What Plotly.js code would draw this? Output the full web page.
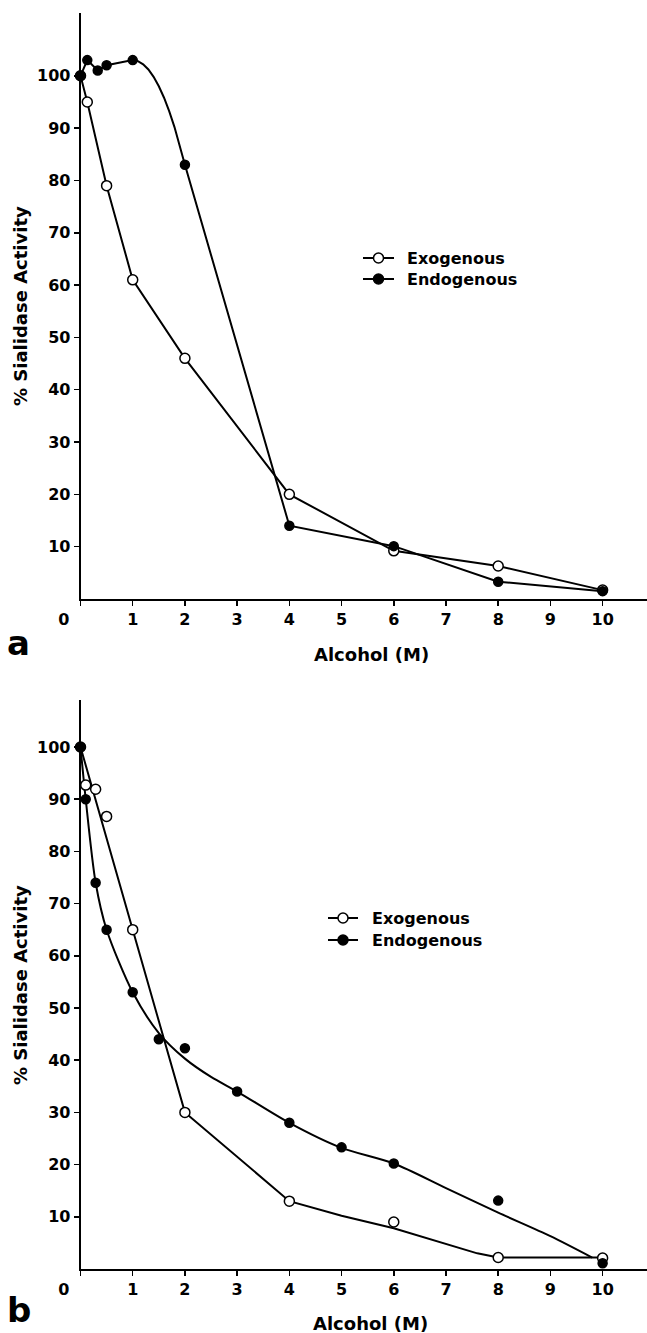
<!DOCTYPE html>
<html>
<head>
<meta charset="utf-8">
<script src="https://cdn.plot.ly/plotly-3.0.1.min.js"></script>
<style>
  html, body { margin: 0; padding: 0; background: #fff; }
  #chart { width: 647px; height: 1333px; }
</style>
</head>
<body>
<div id="chart"></div>
<script>
// ---------- DATA ----------
// Panel a – measured points
const aExoX   = [0, 0.13, 0.5, 1, 2, 4, 6, 8, 10];
const aExoY   = [100, 95, 79, 61, 46, 20, 9.2, 6.3, 1.7];
const aEndoX  = [0, 0.13, 0.33, 0.5, 1, 2, 4, 6, 8, 10];
const aEndoY  = [100, 103, 101, 102, 103, 83, 14, 10.1, 3.3, 1.5];
// Panel a – drawn curve for endogenous (arc between 1 and 2 M)
const aEndoCurveX = [0, 0.13, 0.33, 0.5, 1, 1.1, 1.2, 1.3, 1.4, 1.5, 1.6, 1.7, 1.8, 1.9, 2, 4, 6, 8, 10];
const aEndoCurveY = [100, 103, 101, 102, 103, 102.8, 102.2, 101.2, 99.8, 98, 95.8, 93.2, 90.2, 86.8, 83, 14, 10.1, 3.3, 1.5];

// Panel b – measured points
const bExoX   = [0, 0.1, 0.29, 0.5, 1, 2, 4, 6, 8, 10];
const bExoY   = [100, 92.7, 91.9, 86.7, 65, 30, 13, 9, 2.2, 2.1];
const bEndoX  = [0, 0.1, 0.29, 0.5, 1, 1.5, 2, 3, 4, 5, 6, 8, 10];
const bEndoY  = [100, 90, 74, 65, 53, 44, 42.3, 34, 28, 23.3, 20.2, 13.1, 1.1];
// Panel b – hand-drawn fitted curves
const bExoCurveX  = [0, 1, 2, 4, 5, 6, 7, 7.6, 8, 10];
const bExoCurveY  = [100, 65, 30, 13, 10.2, 7.8, 4.8, 3.0, 2.2, 2.2];
const bEndoCurveX = [0, 0.1, 0.29, 0.5, 1, 1.5, 2, 2.5, 3, 4, 5, 6, 7, 8, 9, 9.8];
const bEndoCurveY = [100, 90, 74, 65, 53, 45.2, 40.3, 36.8, 34, 28, 23.2, 20.2, 15.5, 10.8, 6.3, 2.2];

// Ticks and labels
const xTickVals  = [0, 1, 2, 3, 4, 5, 6, 7, 8, 9, 10];
const xTickText  = ['0', '1', '2', '3', '4', '5', '6', '7', '8', '9', '10'];
const yTickVals  = [10, 20, 30, 40, 50, 60, 70, 80, 90, 100];
const yTickText  = ['10', '20', '30', '40', '50', '60', '70', '80', '90', '100'];
const seriesNames = ['Exogenous', 'Endogenous'];
const xTitle = 'Alcohol (M)';
const yTitle = '% Sialidase Activity';
const panelLabels = ['a', 'b'];

// ---------- STYLE ----------
const W = 647, H = 1333;
const FONT = 'DejaVu Sans';
const px = v => v / W;
const py = v => 1 - v / H;
const LW = 2;
const MS = 10;

// "0" label sits left of the axis corner in the original
const xTickTextShown = xTickText.map((t, i) => i === 0 ? t + '\u00a0\u00a0\u00a0\u00a0\u00a0\u00a0' : t);

function lineTrace(x, y, xa, ya, shape) {
  return { x, y, xaxis: xa, yaxis: ya, type: 'scatter', mode: 'lines',
           line: { color: '#000', width: LW, shape: shape || 'linear', smoothing: 0.8 },
           showlegend: false, hoverinfo: 'skip' };
}
function markerTrace(x, y, xa, ya, filled, name) {
  return { x, y, xaxis: xa, yaxis: ya, type: 'scatter', mode: 'markers', name,
           cliponaxis: false, showlegend: false,
           marker: { symbol: 'circle', size: filled ? MS - 1 : MS,
                     color: filled ? '#000' : '#fff',
                     line: { color: '#000', width: 1.5 } } };
}

const traces = [
  lineTrace(aExoX, aExoY, 'x', 'y'),
  lineTrace(aEndoCurveX, aEndoCurveY, 'x', 'y'),
  markerTrace(aExoX, aExoY, 'x', 'y', false, seriesNames[0]),
  markerTrace(aEndoX, aEndoY, 'x', 'y', true, seriesNames[1]),
  lineTrace(bExoCurveX, bExoCurveY, 'x2', 'y2'),
  lineTrace(bEndoCurveX, bEndoCurveY, 'x2', 'y2', 'spline'),
  markerTrace(bExoX, bExoY, 'x2', 'y2', false, seriesNames[0]),
  markerTrace(bEndoX, bEndoY, 'x2', 'y2', true, seriesNames[1])
];

const tickFont = { family: FONT, size: 16, color: '#000', weight: 'bold' };
function xAxis(anchor) {
  return { domain: [80.5 / W, 1], range: [0, 10.85], anchor,
           showline: true, linecolor: '#000', linewidth: 1.8,
           ticks: 'outside', ticklen: 5, tickwidth: 1.5, tickcolor: '#000',
           tickvals: xTickVals, ticktext: xTickTextShown, tickfont: tickFont,
           showgrid: false, zeroline: false, fixedrange: true };
}
function yAxis(anchor, domain, top) {
  return { domain, range: [0, top], anchor,
           showline: true, linecolor: '#000', linewidth: 1.8,
           ticks: 'outside', ticklen: 5, tickwidth: 1.5, tickcolor: '#000',
           tickvals: yTickVals, ticktext: yTickText, tickfont: tickFont,
           showgrid: false, zeroline: false, fixedrange: true };
}

// custom legends (line with marker + label), placed in pixels
function legendShapes(x0, x1, rows) {
  const s = [];
  rows.forEach((yy, i) => {
    s.push({ type: 'line', xref: 'paper', yref: 'paper', x0: px(x0), x1: px(x1), y0: py(yy), y1: py(yy),
             line: { color: '#000', width: LW } });
    s.push({ type: 'circle', xref: 'paper', yref: 'paper', xsizemode: 'pixel', ysizemode: 'pixel',
             xanchor: px((x0 + x1) / 2), yanchor: py(yy), x0: -5, x1: 5, y0: -5, y1: 5,
             fillcolor: i === 0 ? '#fff' : '#000', line: { color: '#000', width: 1.5 } });
  });
  return s;
}
function legendText(x, rows) {
  return rows.map((yy, i) => ({ xref: 'paper', yref: 'paper', x: px(x), y: py(yy),
    xanchor: 'left', yanchor: 'middle', showarrow: false, text: seriesNames[i],
    font: { family: FONT, size: 16, color: '#000', weight: 'bold' } }));
}

const titleFont = { family: FONT, size: 18, color: '#000', weight: 'bold' };
const annotations = [
  { xref: 'paper', yref: 'paper', x: px(20), y: py(306), text: yTitle, textangle: -90,
    showarrow: false, xanchor: 'center', yanchor: 'middle', font: titleFont },
  { xref: 'paper', yref: 'paper', x: px(20), y: py(985), text: yTitle, textangle: -90,
    showarrow: false, xanchor: 'center', yanchor: 'middle', font: titleFont },
  { xref: 'paper', yref: 'paper', x: px(371), y: py(655), text: xTitle,
    showarrow: false, xanchor: 'center', yanchor: 'middle', font: titleFont },
  { xref: 'paper', yref: 'paper', x: px(370), y: py(1323), text: xTitle,
    showarrow: false, xanchor: 'center', yanchor: 'middle', font: titleFont },
  { xref: 'paper', yref: 'paper', x: px(18), y: py(643), text: panelLabels[0],
    showarrow: false, xanchor: 'center', yanchor: 'middle',
    font: { family: FONT, size: 34, color: '#000', weight: 'bold' } },
  { xref: 'paper', yref: 'paper', x: px(19), y: py(1310), text: panelLabels[1],
    showarrow: false, xanchor: 'center', yanchor: 'middle',
    font: { family: FONT, size: 34, color: '#000', weight: 'bold' } }
].concat(legendText(405, [258, 279]), legendText(370, [918, 940]));

const layout = {
  width: W, height: H,
  margin: { l: 0, r: 0, t: 0, b: 0, pad: 0 },
  paper_bgcolor: '#fff', plot_bgcolor: '#fff',
  showlegend: false,
  font: { family: FONT, color: '#000' },
  xaxis: xAxis('y'),
  yaxis: yAxis('x', [1 - 599 / H, 1 - 13 / H], 112),
  xaxis2: xAxis('y2'),
  yaxis2: yAxis('x2', [1 - 1269 / H, 1 - 700 / H], 109),
  shapes: legendShapes(363, 394, [258, 279]).concat(legendShapes(328, 358, [918, 940])),
  annotations
};

Plotly.newPlot('chart', traces, layout, { staticPlot: true, displayModeBar: false });
</script>
</body>
</html>
